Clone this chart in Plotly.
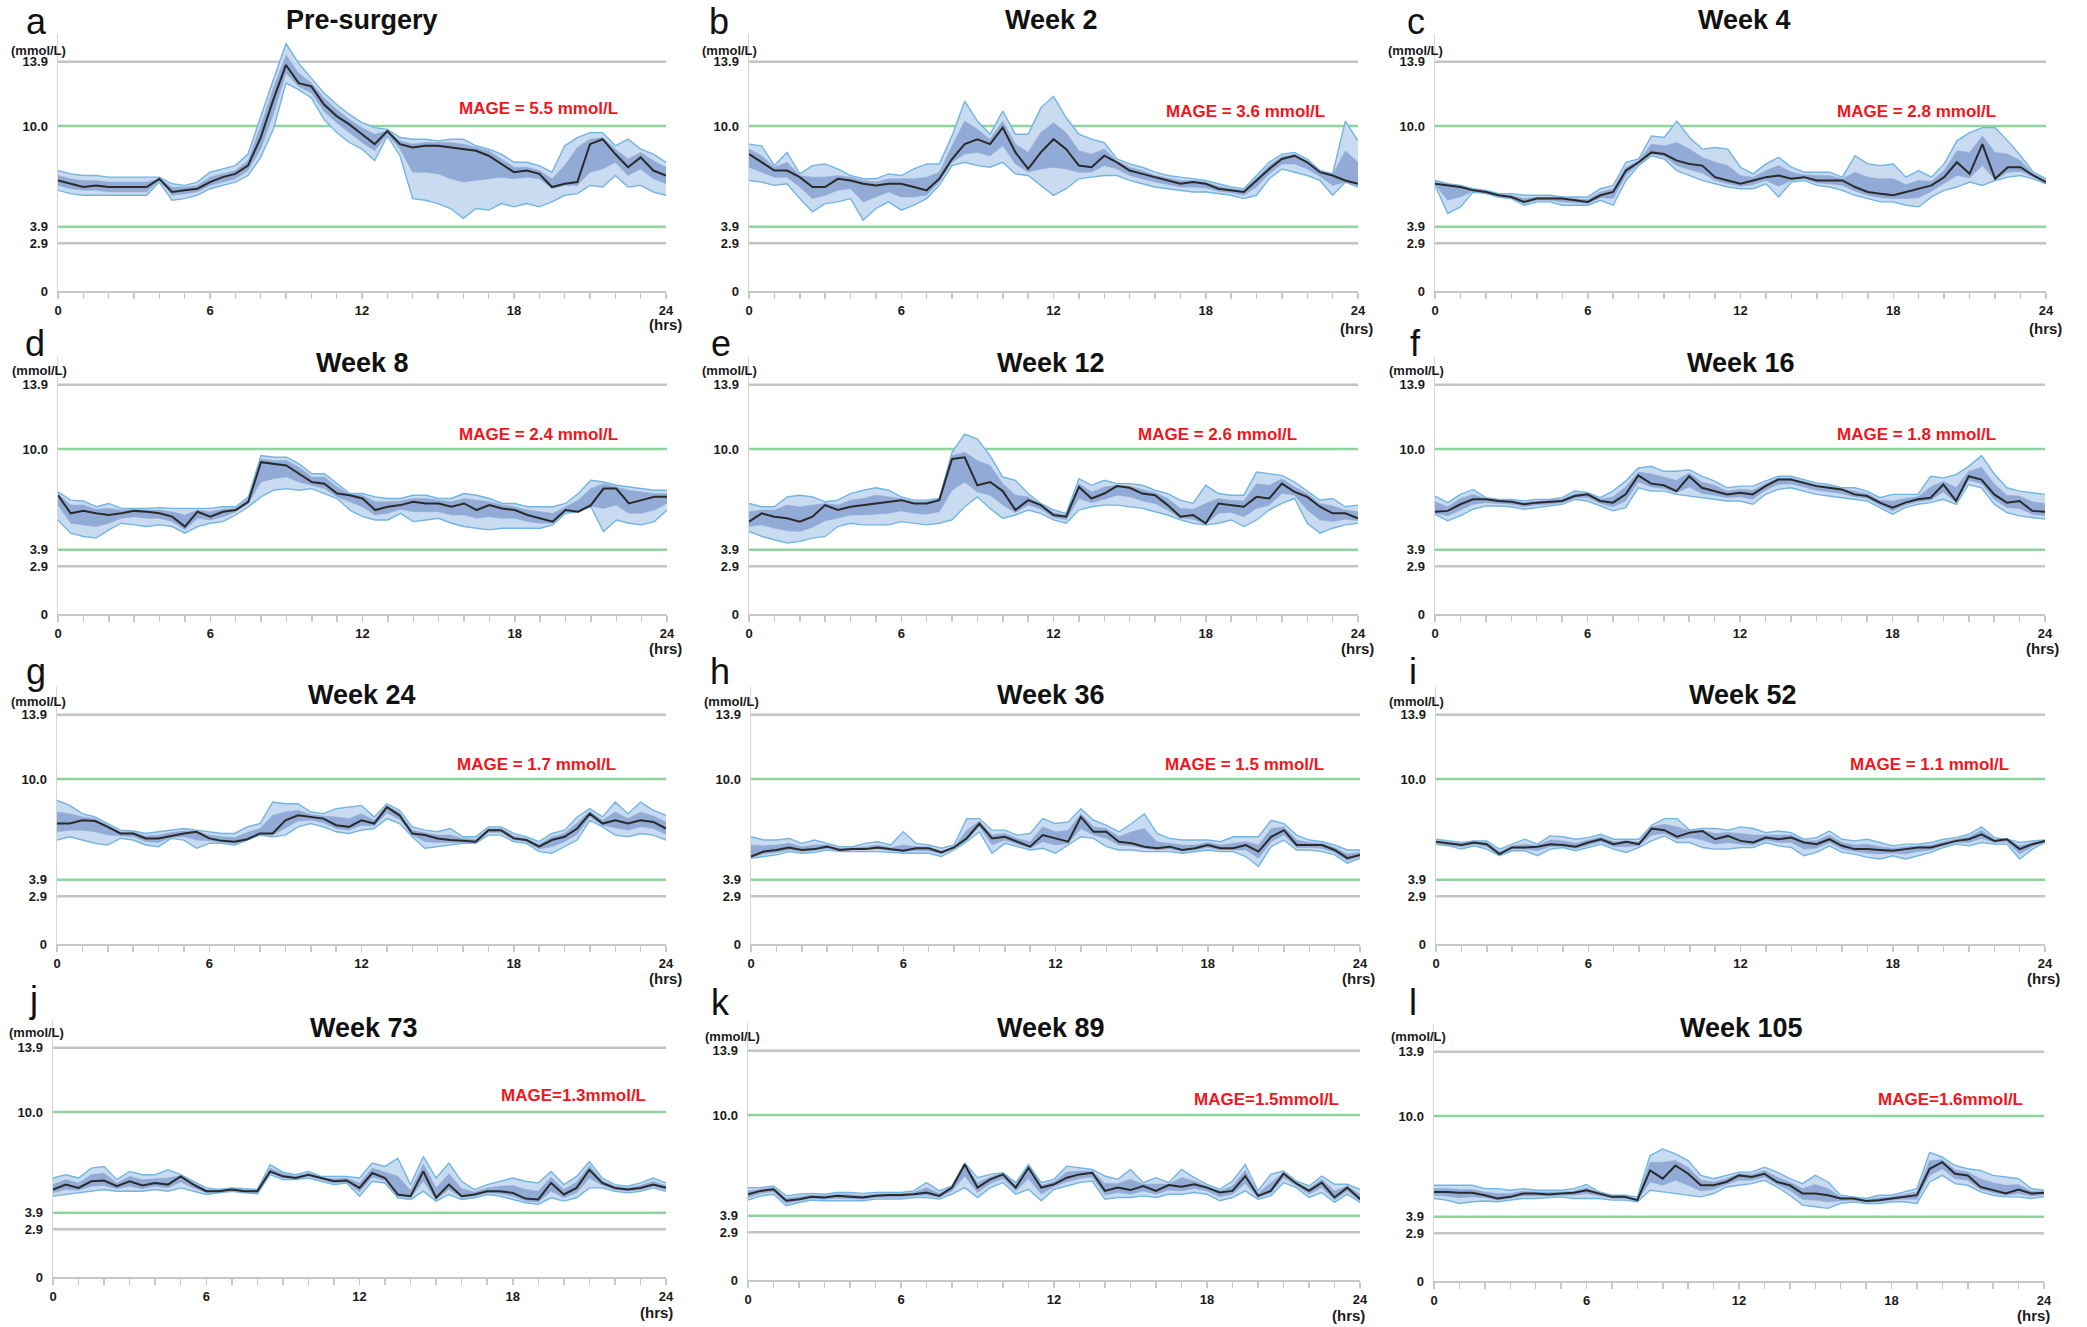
import plotly.graph_objects as go

# ---------------- data ----------------
HOURS = [0, 0.5, 1, 1.5, 2, 2.5, 3, 3.5, 4, 4.5, 5, 5.5, 6, 6.5, 7, 7.5, 8, 8.5, 9, 9.5,
         10, 10.5, 11, 11.5, 12, 12.5, 13, 13.5, 14, 14.5, 15, 15.5, 16, 16.5, 17, 17.5,
         18, 18.5, 19, 19.5, 20, 20.5, 21, 21.5, 22, 22.5, 23, 23.5, 24]

PANEL_LETTERS = ["a", "b", "c", "d", "e", "f", "g", "h", "i", "j", "k", "l"]
PANEL_TITLES = ["Pre-surgery", "Week 2", "Week 4", "Week 8", "Week 12", "Week 16",
                "Week 24", "Week 36", "Week 52", "Week 73", "Week 89", "Week 105"]
MAGE_LABELS = ["MAGE = 5.5 mmol/L", "MAGE = 3.6 mmol/L", "MAGE = 2.8 mmol/L",
               "MAGE = 2.4 mmol/L", "MAGE = 2.6 mmol/L", "MAGE = 1.8 mmol/L",
               "MAGE = 1.7 mmol/L", "MAGE = 1.5 mmol/L", "MAGE = 1.1 mmol/L",
               "MAGE=1.3mmol/L", "MAGE=1.5mmol/L", "MAGE=1.6mmol/L"]
Y_TICK_VALUES = [0, 2.9, 3.9, 10.0, 13.9]
Y_TICK_LABELS = ["0", "2.9", "3.9", "10.0", "13.9"]
X_TICK_VALUES = [0, 1, 2, 3, 4, 5, 6, 7, 8, 9, 10, 11, 12, 13, 14, 15, 16, 17, 18, 19, 20, 21, 22, 23, 24]
X_TICK_LABELS = ["0", "", "", "", "", "", "6", "", "", "", "", "", "12", "", "", "", "", "",
                 "18", "", "", "", "", "", "24"]
GRID_GRAY = [13.9, 2.9]
GRID_GREEN = [10.0, 3.9]

# Pre-surgery
A_MED = [6.7,6.5,6.3,6.4,6.3,6.3,6.3,6.3,6.8,6.0,6.1,6.2,6.6,6.9,7.1,7.6,9.3,11.6,13.7,12.6,12.4,11.3,10.6,10.1,9.5,8.9,9.7,8.9,8.7,8.8,8.8,8.7,8.6,8.5,8.2,7.7,7.2,7.3,7.1,6.3,6.5,6.6,8.9,9.2,8.3,7.5,8.1,7.3,7.0]
A_P90 = [7.3,7.1,7.0,7.0,6.9,6.9,6.9,6.9,6.9,6.5,6.4,6.6,7.2,7.4,7.6,8.3,10.6,12.8,15.0,13.8,12.9,12.0,11.3,10.7,10.2,9.9,9.8,9.3,9.2,9.2,9.1,9.2,9.2,8.8,8.6,8.3,7.8,7.8,7.6,7.2,8.8,9.3,9.6,9.6,8.8,9.2,8.6,8.3,7.8]
A_P75 = [7.0,6.8,6.7,6.7,6.6,6.6,6.6,6.6,6.8,6.3,6.3,6.4,6.9,7.1,7.3,7.9,10.0,12.3,14.3,13.2,12.6,11.7,11.0,10.4,9.9,9.5,9.7,9.1,8.9,9.0,9.0,9.0,8.9,8.7,8.5,8.0,7.5,7.5,7.3,6.8,7.6,8.7,9.2,9.3,8.6,8.0,8.4,7.9,7.5]
A_P25 = [6.4,6.2,6.1,6.1,6.0,6.0,6.0,6.0,6.7,5.8,5.9,6.0,6.4,6.6,6.8,7.3,8.6,10.7,13.2,12.4,12.0,10.9,10.2,9.6,9.0,8.5,9.5,8.6,7.2,7.2,7.1,6.8,6.6,6.7,6.8,6.9,6.8,6.9,6.8,6.2,6.4,6.4,7.2,7.4,7.8,7.0,7.4,6.8,6.5]
A_P10 = [6.1,5.9,5.8,5.8,5.8,5.8,5.8,5.8,6.6,5.5,5.6,5.8,6.2,6.4,6.6,7.0,8.1,9.8,12.6,12.2,11.7,10.4,9.6,9.0,8.6,7.9,9.4,8.2,5.6,5.5,5.3,5.0,4.4,5.0,4.9,5.3,5.1,5.3,5.1,5.4,5.8,5.9,6.4,6.3,7.0,6.3,6.4,6.0,5.8]

# Week 2
B_MED = [8.3,7.8,7.3,7.3,6.9,6.3,6.3,6.8,6.7,6.5,6.4,6.5,6.5,6.3,6.1,6.8,8.0,8.9,9.2,8.9,9.9,8.4,7.4,8.4,9.2,8.6,7.6,7.5,8.2,7.8,7.3,7.1,6.9,6.7,6.5,6.6,6.5,6.2,6.1,6.0,6.7,7.4,8.0,8.2,7.8,7.2,7.0,6.7,6.5]
B_P90 = [8.9,8.8,7.6,8.4,7.1,7.6,7.7,7.4,7.0,6.8,6.8,7.1,7.0,7.4,7.7,7.7,9.4,11.5,10.3,9.5,10.9,9.5,9.5,11.1,11.8,10.5,9.5,9.2,9.0,8.0,7.7,7.5,7.2,7.0,6.9,6.8,6.7,6.5,6.3,6.2,7.0,7.8,8.3,8.4,8.0,7.3,7.1,10.3,9.1]
B_P75 = [8.6,8.2,7.5,7.8,7.0,6.9,6.9,7.0,6.9,6.7,6.6,6.8,6.8,6.8,6.9,7.2,8.8,10.3,9.8,9.2,10.3,8.9,8.4,9.6,10.2,9.6,8.5,8.3,8.6,7.9,7.5,7.3,7.0,6.85,6.7,6.7,6.6,6.35,6.2,6.1,6.85,7.6,8.15,8.3,7.9,7.25,7.05,8.5,7.8]
B_P25 = [7.5,7.2,6.9,6.9,6.3,5.6,5.8,6.1,6.2,5.4,5.7,6.0,5.7,5.7,5.8,6.6,7.8,8.3,8.4,8.2,8.8,7.7,7.2,7.4,7.5,7.4,7.2,7.2,7.6,7.4,7.0,6.8,6.6,6.45,6.3,6.3,6.25,6.05,5.95,5.8,6.3,7.1,7.7,7.7,7.4,6.95,6.4,6.6,6.4]
B_P10 = [6.7,6.6,6.4,6.5,5.6,4.8,5.3,5.4,5.6,4.3,5.0,5.4,4.9,5.2,5.6,6.4,7.6,7.8,7.6,7.5,7.8,7.1,7.0,6.4,5.8,6.2,6.8,6.9,7.0,7.0,6.7,6.5,6.3,6.2,6.1,6.0,6.0,5.9,5.8,5.6,5.8,6.8,7.4,7.2,7.0,6.7,5.8,6.6,6.3]

# Week 4
C_MED = [6.5,6.4,6.3,6.1,6.0,5.8,5.7,5.4,5.6,5.6,5.6,5.5,5.4,5.8,6.0,7.3,7.8,8.4,8.3,7.9,7.7,7.6,6.9,6.7,6.5,6.7,6.9,7.0,6.8,6.9,6.7,6.7,6.7,6.3,6.0,5.9,5.8,6.0,6.2,6.4,6.9,7.8,7.1,8.9,6.8,7.5,7.5,7.0,6.6]
C_P90 = [6.7,6.5,6.4,6.2,6.1,5.9,5.9,5.8,5.8,5.8,5.7,5.7,5.7,6.2,6.4,7.8,8.0,9.4,9.3,10.3,9.3,8.6,8.7,8.6,7.5,7.1,7.7,8.1,7.5,7.2,7.2,7.2,6.9,8.2,7.7,7.6,7.7,6.9,7.3,6.9,7.7,9.1,9.6,9.9,9.9,9.1,8.2,7.2,6.8]
C_P75 = [6.6,6.45,6.35,6.15,6.05,5.85,5.8,5.6,5.7,5.7,5.65,5.6,5.55,6.0,6.2,7.5,7.9,8.9,8.8,9.0,8.6,8.1,7.8,7.6,7.0,6.9,7.3,7.6,7.2,7.05,7.0,7.0,6.8,7.2,6.9,6.8,6.8,6.45,6.7,6.65,7.3,8.5,8.4,9.4,8.4,8.3,7.9,7.1,6.7]
C_P25 = [6.45,5.5,5.7,6.05,5.95,5.75,5.65,5.3,5.5,5.5,5.4,5.35,5.3,5.65,5.6,7.0,7.7,8.3,8.15,7.6,7.35,7.15,6.7,6.5,6.35,6.45,6.7,6.35,6.7,6.8,6.55,6.5,6.4,6.05,5.8,5.65,5.6,5.6,5.65,6.05,6.5,7.0,6.85,7.6,6.75,7.2,7.25,6.9,6.55]
C_P10 = [6.4,4.7,5.1,6.0,5.9,5.7,5.6,5.2,5.4,5.4,5.2,5.2,5.2,5.5,5.2,6.7,7.6,8.2,8.0,7.3,7.0,6.7,6.5,6.3,6.2,6.2,6.5,5.7,6.6,6.7,6.4,6.3,6.1,5.8,5.6,5.4,5.4,5.2,5.1,5.7,6.1,6.3,6.6,6.4,6.7,6.9,7.0,6.8,6.5]

# Week 8
D_MED = [7.2,6.1,6.25,6.1,6.0,6.1,6.25,6.2,6.1,5.9,5.3,6.2,5.9,6.2,6.3,6.8,9.2,9.1,9.0,8.5,8.0,7.9,7.3,7.2,7.0,6.3,6.5,6.6,6.8,6.7,6.7,6.5,6.7,6.3,6.6,6.4,6.3,6.0,5.8,5.6,6.3,6.2,6.6,7.6,7.6,6.7,6.9,7.1,7.1]
D_P90 = [7.4,6.9,6.85,6.5,6.7,6.4,6.4,6.4,6.45,6.4,6.4,6.4,6.4,6.5,6.5,7.1,9.6,9.5,9.5,9.1,8.5,8.5,7.9,7.3,7.3,7.1,7.0,7.0,7.2,7.2,7.0,7.0,7.3,7.2,7.0,6.7,6.7,6.5,6.5,6.5,6.7,7.3,8.1,8.0,7.8,7.7,7.6,7.5,7.5]
D_P75 = [7.3,6.6,6.6,6.35,6.4,6.3,6.35,6.3,6.3,6.2,6.0,6.3,6.2,6.35,6.4,7.0,9.4,9.3,9.3,8.9,8.3,8.3,7.7,7.25,7.2,6.8,6.8,6.85,7.0,7.0,6.9,6.8,7.0,6.9,6.8,6.6,6.5,6.3,6.2,6.1,6.5,6.9,7.6,7.9,7.7,7.5,7.4,7.3,7.3]
D_P25 = [6.6,5.5,5.4,5.3,5.5,5.8,5.9,5.8,5.8,5.6,5.1,5.8,5.7,5.9,6.2,6.7,8.0,8.2,8.3,8.0,7.8,7.6,7.1,6.8,6.5,6.0,6.1,6.35,6.2,6.2,6.2,6.0,6.0,5.8,5.9,5.8,5.8,5.6,5.5,5.5,6.2,6.2,6.55,6.4,6.6,6.1,6.1,6.3,6.7]
D_P10 = [5.7,4.9,4.7,4.6,5.1,5.5,5.4,5.3,5.4,5.3,4.9,5.3,5.5,5.6,6.0,6.5,7.1,7.5,7.6,7.5,7.6,7.3,7.0,6.3,5.9,5.7,5.7,6.1,5.6,5.7,5.8,5.5,5.3,5.2,5.1,5.2,5.2,5.2,5.2,5.4,6.1,6.2,6.5,5.0,5.7,5.5,5.4,5.6,6.3]

# Week 12
E_MED = [5.6,6.1,5.9,5.8,5.6,5.9,6.6,6.3,6.5,6.6,6.7,6.8,6.9,6.7,6.7,6.9,9.4,9.5,7.8,8.0,7.45,6.3,6.9,6.6,6.0,5.9,7.7,7.0,7.3,7.75,7.65,7.3,7.2,6.6,5.9,6.0,5.5,6.7,6.6,6.5,7.1,7.0,7.9,7.4,7.1,6.5,6.1,6.1,5.8]
E_P90 = [6.7,6.5,6.5,7.1,7.2,7.1,6.8,6.9,7.3,7.5,7.65,7.5,7.1,6.9,6.9,7.0,9.8,10.9,10.6,9.6,8.3,8.1,7.3,6.7,6.3,6.1,8.2,7.8,8.1,7.9,7.9,7.8,7.5,7.3,6.9,6.7,7.8,7.3,7.2,7.2,8.6,8.5,8.4,8.0,7.45,6.9,7.0,6.5,6.6]
E_P75 = [6.2,6.3,6.3,6.6,6.5,6.6,6.7,6.6,6.9,7.0,7.2,7.1,7.0,6.8,6.8,6.95,9.6,9.8,9.3,9.0,7.9,7.2,7.1,6.65,6.15,6.0,7.9,7.4,7.7,7.8,7.75,7.55,7.35,7.0,6.4,6.35,6.7,7.0,6.9,6.85,7.9,7.8,8.2,7.7,7.3,6.7,6.55,6.3,6.2]
E_P25 = [5.3,5.4,5.2,5.05,5.0,5.25,5.65,5.8,6.0,6.0,6.05,6.1,6.25,6.1,6.05,6.2,7.5,8.0,7.4,7.2,6.6,6.15,6.6,6.35,5.85,5.7,7.0,6.75,6.95,7.2,7.1,6.85,6.7,6.3,5.8,5.75,5.45,6.1,6.15,5.9,6.4,6.6,7.3,7.2,6.3,5.7,5.6,5.75,5.65]
E_P10 = [5.0,4.7,4.5,4.3,4.4,4.6,4.7,5.3,5.5,5.4,5.4,5.4,5.6,5.5,5.4,5.5,5.7,6.5,7.1,6.4,5.8,6.0,6.3,6.1,5.7,5.5,6.3,6.5,6.6,6.6,6.5,6.4,6.2,6.0,5.7,5.5,5.4,5.5,5.7,5.3,5.7,6.3,6.7,7.0,5.5,4.9,5.2,5.4,5.5]

# Week 16
F_MED = [6.2,6.25,6.65,6.95,6.95,6.85,6.8,6.65,6.75,6.8,6.85,7.15,7.25,6.85,6.75,7.25,8.4,7.9,7.8,7.45,8.35,7.65,7.45,7.25,7.35,7.25,7.75,8.15,8.15,7.95,7.75,7.65,7.55,7.25,7.15,6.75,6.45,6.75,6.95,7.05,7.85,6.85,8.35,8.15,7.25,6.75,6.85,6.25,6.2]
F_P90 = [7.15,6.75,7.25,7.55,7.05,6.95,6.95,6.85,6.95,6.95,7.05,7.45,7.35,7.05,7.45,8.05,8.85,8.95,8.65,8.65,8.75,8.35,8.05,7.65,7.75,7.75,8.05,8.35,8.35,8.15,7.95,7.85,7.65,7.65,7.45,7.05,7.25,7.25,7.25,8.35,8.25,8.45,8.95,9.6,8.5,7.65,7.45,7.35,7.25]
F_P75 = [6.8,6.5,7.0,7.25,7.0,6.9,6.9,6.75,6.85,6.9,6.95,7.3,7.3,6.95,7.1,7.7,8.6,8.5,8.3,8.1,8.55,8.0,7.8,7.45,7.55,7.5,7.9,8.25,8.25,8.05,7.85,7.75,7.6,7.45,7.3,6.9,6.85,7.0,7.1,7.7,8.05,7.65,8.65,8.9,7.9,7.2,7.15,6.8,6.7]
F_P25 = [6.1,5.95,6.3,6.65,6.75,6.7,6.65,6.5,6.6,6.65,6.75,7.05,7.05,6.7,6.5,6.85,8.0,7.7,7.6,7.35,7.7,7.3,7.2,7.05,7.1,6.95,7.5,7.85,7.9,7.7,7.5,7.4,7.3,7.1,7.0,6.6,6.25,6.6,6.8,6.9,7.4,6.75,8.1,7.9,6.95,6.45,6.4,6.05,5.95]
F_P10 = [6.05,5.65,5.95,6.35,6.55,6.55,6.5,6.35,6.45,6.55,6.65,6.95,6.85,6.55,6.25,6.45,7.65,7.45,7.45,7.25,7.15,7.05,6.95,6.85,6.85,6.65,7.25,7.55,7.65,7.45,7.25,7.15,7.05,6.95,6.85,6.45,6.05,6.45,6.65,6.75,6.95,6.65,7.85,7.65,6.65,6.15,5.95,5.85,5.75]

# Week 24
G_MED = [7.3,7.3,7.5,7.45,7.1,6.7,6.7,6.4,6.4,6.55,6.7,6.8,6.4,6.25,6.2,6.35,6.7,6.7,7.5,7.8,7.7,7.6,7.2,7.1,7.5,7.3,8.3,7.8,6.7,6.6,6.4,6.3,6.25,6.2,6.9,6.9,6.4,6.3,5.9,6.3,6.5,7.0,7.9,7.3,7.5,7.3,7.5,7.4,7.0]
G_P90 = [8.7,8.4,7.9,7.7,7.3,6.9,6.85,6.7,6.8,6.9,7.0,6.9,6.8,6.7,6.7,7.1,7.3,8.6,8.5,8.5,8.0,7.9,8.2,8.3,8.4,7.7,8.5,8.1,7.1,6.9,6.8,7.0,6.5,6.5,7.1,7.1,6.7,6.5,6.2,6.7,6.9,7.7,8.2,7.7,8.6,7.9,8.6,8.1,7.8]
G_P75 = [8.0,7.9,7.7,7.6,7.2,6.8,6.8,6.55,6.6,6.75,6.85,6.85,6.6,6.5,6.45,6.75,7.0,7.8,8.0,8.1,7.85,7.75,7.7,7.6,7.9,7.5,8.4,7.95,6.9,6.75,6.6,6.6,6.4,6.35,7.0,7.0,6.55,6.4,6.05,6.5,6.7,7.35,8.05,7.5,8.0,7.6,8.0,7.75,7.4]
G_P25 = [6.8,6.9,6.9,6.8,6.6,6.55,6.5,6.2,6.15,6.45,6.5,6.3,6.25,6.15,6.1,6.3,6.65,6.6,7.0,7.45,7.5,7.35,7.0,6.9,7.2,7.15,7.95,7.55,6.6,6.2,6.15,6.15,6.15,6.15,6.75,6.75,6.3,6.2,5.75,5.9,6.2,6.65,7.7,7.2,7.05,6.9,7.1,7.0,6.65]
G_P10 = [6.3,6.5,6.3,6.1,6.0,6.4,6.3,6.0,5.9,6.4,6.3,5.8,6.1,6.1,6.0,6.3,6.6,6.5,6.6,7.1,7.3,7.1,6.8,6.7,6.9,7.0,7.6,7.3,6.5,5.8,5.9,6.0,6.1,6.1,6.6,6.6,6.2,6.1,5.6,5.5,5.9,6.3,7.5,7.1,6.6,6.5,6.7,6.6,6.3]

# Week 36
H_MED = [5.3,5.6,5.7,5.85,5.7,5.75,5.9,5.7,5.75,5.75,5.85,5.75,5.65,5.8,5.8,5.55,5.85,6.4,7.3,6.4,6.5,6.2,5.9,6.6,6.4,6.2,7.7,6.8,6.8,6.2,6.1,5.9,5.8,5.9,5.7,5.8,6.0,5.8,5.8,6.0,5.6,6.5,6.9,6.0,6.0,6.0,5.7,5.2,5.4]
H_P90 = [6.5,6.3,6.3,6.4,6.1,6.3,6.1,5.9,5.9,6.1,6.2,6.0,6.8,6.1,6.0,5.8,6.0,7.6,7.6,6.9,6.9,6.6,6.7,7.6,7.3,7.4,8.2,7.5,7.2,6.8,7.3,7.9,6.7,6.4,6.3,6.3,6.3,6.2,6.5,6.5,6.5,7.5,7.3,6.6,6.3,6.2,6.0,5.7,5.7]
H_P75 = [6.0,5.95,6.0,6.1,5.9,6.0,6.0,5.8,5.85,5.9,6.0,5.85,6.0,5.9,5.9,5.65,5.9,6.9,7.45,6.6,6.7,6.4,6.2,7.1,6.8,6.9,7.9,7.1,7.0,6.5,6.8,7.0,6.2,6.1,6.0,6.0,6.15,6.0,6.1,6.2,6.0,7.0,7.1,6.3,6.15,6.1,5.85,5.45,5.55]
H_P25 = [5.25,5.45,5.55,5.7,5.6,5.65,5.8,5.65,5.7,5.7,5.75,5.65,5.6,5.65,5.65,5.45,5.8,6.3,7.1,6.0,6.3,6.05,5.8,6.2,6.0,6.1,7.0,6.6,6.4,6.0,5.95,5.8,5.7,5.75,5.6,5.7,5.85,5.7,5.7,5.7,5.2,6.2,6.6,5.85,5.85,5.8,5.55,5.05,5.3]
H_P10 = [5.2,5.3,5.4,5.6,5.5,5.55,5.7,5.6,5.6,5.6,5.6,5.55,5.5,5.5,5.5,5.3,5.7,6.2,6.8,5.5,6.1,5.9,5.7,5.8,5.5,6.0,6.5,6.4,5.9,5.7,5.7,5.6,5.6,5.6,5.5,5.6,5.7,5.6,5.6,5.3,4.7,5.9,6.3,5.7,5.7,5.6,5.4,4.9,5.2]

# Week 52
I_MED = [6.2,6.1,6.0,6.15,6.05,5.45,5.85,5.85,5.9,6.05,6.0,5.9,6.15,6.35,6.05,6.2,6.05,7.0,6.9,6.5,6.75,6.85,6.35,6.55,6.25,6.15,6.45,6.35,6.45,6.15,6.05,6.35,5.95,5.75,5.75,5.7,5.65,5.75,5.85,5.85,6.05,6.25,6.35,6.65,6.25,6.35,5.75,6.05,6.25]
I_P90 = [6.35,6.25,6.15,6.25,6.25,5.75,6.05,6.35,6.05,6.55,6.5,6.35,6.45,6.65,6.35,6.35,6.35,7.2,7.6,7.6,6.9,7.0,7.0,6.9,7.1,7.0,6.75,6.85,6.75,6.35,6.45,6.85,6.35,6.25,6.35,6.15,5.95,6.05,6.05,6.15,6.35,6.45,6.65,7.1,6.45,6.35,6.15,6.25,6.3]
I_P75 = [6.28,6.2,6.08,6.2,6.15,5.6,5.95,6.05,5.97,6.3,6.25,6.1,6.3,6.5,6.2,6.27,6.2,7.1,7.25,7.1,6.85,6.9,6.7,6.75,6.7,6.6,6.6,6.6,6.6,6.25,6.25,6.6,6.15,6.0,6.05,5.9,5.8,5.9,5.95,6.0,6.2,6.35,6.5,6.9,6.35,6.35,5.95,6.15,6.27]
I_P25 = [6.12,6.02,5.88,6.05,5.9,5.4,5.75,5.75,5.65,5.9,5.92,5.78,6.0,6.2,5.9,5.9,5.95,6.6,6.7,6.35,6.45,6.3,6.05,6.15,6.05,6.0,6.3,6.15,6.15,5.75,5.8,6.15,5.75,5.6,5.5,5.45,5.5,5.45,5.6,5.7,5.95,6.15,6.15,6.4,6.15,6.2,5.45,5.9,6.2]
I_P10 = [6.05,5.95,5.75,5.95,5.75,5.35,5.65,5.65,5.35,5.75,5.85,5.65,5.85,6.05,5.75,5.55,5.85,6.25,6.55,6.15,6.15,5.85,5.75,5.75,5.85,5.85,6.15,5.95,5.85,5.35,5.55,5.95,5.55,5.45,5.25,5.15,5.35,5.15,5.35,5.55,5.85,6.05,5.95,6.15,6.05,6.05,5.15,5.75,6.15]

# Week 73
J_MED = [5.3,5.6,5.4,5.8,5.85,5.5,5.8,5.55,5.7,5.6,6.1,5.6,5.2,5.2,5.3,5.2,5.2,6.4,6.1,6.0,6.2,6.0,5.8,5.85,5.4,6.3,6.0,5.0,4.9,6.4,4.8,5.6,4.9,5.0,5.2,5.2,5.1,4.75,4.7,5.7,5.0,5.4,6.5,5.7,5.4,5.3,5.4,5.6,5.4]
J_P90 = [6.0,6.2,6.0,6.6,6.7,5.9,6.4,6.2,6.2,6.5,6.2,5.8,5.4,5.3,5.4,5.35,5.3,6.8,6.35,6.2,6.4,6.1,6.1,6.1,6.0,6.9,6.7,7.2,5.6,7.3,6.0,6.9,5.8,5.3,5.6,5.8,6.0,5.8,5.7,6.4,5.6,6.1,7.0,6.0,5.6,5.5,5.7,6.0,5.7]
J_P75 = [5.6,5.9,5.7,6.2,6.3,5.7,6.1,5.9,5.95,6.0,6.15,5.7,5.3,5.25,5.35,5.28,5.25,6.6,6.25,6.1,6.3,6.05,5.95,6.0,5.7,6.6,6.35,6.1,5.25,6.85,5.4,6.25,5.35,5.15,5.4,5.5,5.55,5.3,5.2,6.05,5.3,5.75,6.75,5.85,5.5,5.4,5.55,5.8,5.55]
J_P25 = [5.1,5.3,5.25,5.5,5.55,5.35,5.5,5.35,5.5,5.4,5.75,5.4,5.1,5.15,5.25,5.15,5.12,6.3,6.0,5.95,6.1,5.9,5.7,5.75,5.15,6.05,5.85,4.9,4.8,5.8,4.7,5.3,4.8,4.9,5.1,5.05,4.9,4.6,4.55,5.2,4.8,5.1,6.0,5.55,5.3,5.2,5.3,5.5,5.3]
J_P10 = [4.9,5.0,5.1,5.2,5.3,5.2,5.2,5.2,5.3,5.2,5.4,5.2,5.0,5.1,5.2,5.1,5.05,6.2,5.9,5.9,6.0,5.8,5.6,5.7,4.9,5.8,5.7,4.8,4.7,5.2,4.6,5.0,4.7,4.8,5.0,4.9,4.7,4.5,4.4,4.8,4.6,4.8,5.4,5.4,5.2,5.1,5.2,5.4,5.2]

# Week 89
K_MED = [5.2,5.4,5.5,4.8,4.9,5.05,5.0,5.1,5.05,5.0,5.1,5.15,5.15,5.2,5.3,5.1,5.6,7.0,5.6,6.1,6.4,5.6,6.8,5.6,5.8,6.2,6.4,6.5,5.4,5.6,5.45,5.7,5.4,5.75,5.65,5.8,5.6,5.3,5.4,6.3,5.1,5.4,6.45,5.85,5.4,5.9,5.0,5.6,4.9]
K_P90 = [5.6,5.6,5.7,5.1,5.2,5.25,5.2,5.3,5.3,5.25,5.3,5.3,5.3,5.4,5.9,5.4,5.7,7.1,6.2,6.4,6.5,5.9,7.0,5.9,6.1,6.9,6.8,6.7,6.3,6.1,6.7,5.9,6.2,5.9,6.7,6.2,5.8,5.5,6.0,7.0,5.4,6.4,6.6,6.0,5.7,6.3,5.8,5.8,5.5]
K_P75 = [5.4,5.5,5.6,4.95,5.05,5.15,5.1,5.2,5.18,5.12,5.2,5.22,5.22,5.3,5.6,5.25,5.65,7.05,5.9,6.25,6.45,5.75,6.9,5.75,5.95,6.55,6.6,6.6,5.85,5.85,6.1,5.8,5.8,5.82,6.2,6.0,5.7,5.4,5.7,6.65,5.25,5.9,6.52,5.92,5.55,6.1,5.4,5.7,5.2]
K_P25 = [5.0,5.25,5.35,4.65,4.8,4.95,4.9,4.95,4.92,4.9,5.0,5.02,5.02,5.1,5.15,5.0,5.4,6.3,5.3,5.85,6.15,5.4,6.15,5.2,5.65,5.95,6.15,6.25,5.15,5.3,5.2,5.4,5.2,5.45,5.4,5.55,5.4,5.05,5.2,5.85,5.0,5.25,6.2,5.72,5.2,5.6,4.85,5.4,4.8]
K_P10 = [4.85,5.1,5.2,4.5,4.7,4.85,4.8,4.8,4.8,4.8,4.9,4.9,4.9,5.0,5.0,4.9,5.2,5.6,5.0,5.6,5.9,5.2,5.5,4.8,5.5,5.7,5.9,6.0,4.9,5.0,5.0,5.1,5.0,5.2,5.2,5.3,5.2,4.8,5.0,5.4,4.9,5.1,5.9,5.6,5.0,5.3,4.7,5.2,4.7]

# Week 105
L_MED = [5.4,5.4,5.35,5.35,5.2,5.0,5.1,5.3,5.3,5.25,5.3,5.35,5.5,5.3,5.1,5.1,4.9,6.7,6.2,7.0,6.5,5.8,5.8,6.0,6.4,6.3,6.5,6.0,5.8,5.3,5.3,5.2,5.0,5.0,4.85,4.9,5.0,5.1,5.2,6.8,7.2,6.5,6.4,5.7,5.5,5.3,5.55,5.3,5.35]
L_P90 = [5.8,5.8,5.8,5.8,5.6,5.6,5.5,5.6,5.5,5.5,5.5,5.6,5.85,5.4,5.2,5.2,5.1,7.6,8.0,7.7,7.3,6.4,6.2,6.4,6.6,6.6,6.9,6.6,6.2,5.9,6.4,6.0,5.2,5.1,5.0,5.2,5.2,5.4,5.6,7.8,7.5,7.0,6.8,6.7,6.4,6.3,6.2,5.6,5.5]
L_P75 = [5.6,5.6,5.55,5.55,5.4,5.3,5.3,5.45,5.4,5.4,5.4,5.45,5.65,5.35,5.15,5.15,5.0,7.2,7.2,7.3,6.9,6.1,6.0,6.2,6.5,6.45,6.7,6.3,6.0,5.6,5.85,5.6,5.1,5.05,4.92,5.05,5.1,5.25,5.4,7.3,7.35,6.75,6.6,6.2,5.95,5.8,5.85,5.45,5.42]
L_P25 = [5.2,5.15,5.05,5.1,5.05,4.9,5.0,5.15,5.15,5.15,5.2,5.2,5.3,5.15,5.0,5.0,4.85,6.0,5.8,6.1,5.8,5.45,5.55,5.85,6.1,6.1,6.3,5.85,5.5,4.95,4.9,4.8,4.85,4.9,4.78,4.8,4.9,4.95,4.95,6.4,6.8,6.2,6.1,5.55,5.35,5.2,5.3,5.15,5.2]
L_P10 = [5.0,4.9,4.7,4.8,4.85,4.8,4.9,5.0,5.0,5.05,5.1,5.0,5.0,5.0,4.9,4.9,4.8,5.5,5.4,5.3,5.2,5.1,5.3,5.7,5.8,5.9,6.1,5.7,5.2,4.6,4.5,4.4,4.7,4.8,4.7,4.7,4.8,4.8,4.7,6.0,6.4,5.9,5.8,5.4,5.2,5.1,5.1,5.0,5.1]

SERIES = [
    (A_P10, A_P25, A_MED, A_P75, A_P90), (B_P10, B_P25, B_MED, B_P75, B_P90),
    (C_P10, C_P25, C_MED, C_P75, C_P90), (D_P10, D_P25, D_MED, D_P75, D_P90),
    (E_P10, E_P25, E_MED, E_P75, E_P90), (F_P10, F_P25, F_MED, F_P75, F_P90),
    (G_P10, G_P25, G_MED, G_P75, G_P90), (H_P10, H_P25, H_MED, H_P75, H_P90),
    (I_P10, I_P25, I_MED, I_P75, I_P90), (J_P10, J_P25, J_MED, J_P75, J_P90),
    (K_P10, K_P25, K_MED, K_P75, K_P90), (L_P10, L_P25, L_MED, L_P75, L_P90),
]

# ---------------- layout geometry (pixels in the 2087x1327 page) ----------------
W, H = 2087, 1327
PX_PER_UNIT = 16.5
Y_TOP = 15.6

# x0, x24, y(0), letter, title, unit, mage, hrs
GEOM = [
    (58, 666, 291, (36, 22), (362, 20), (38, 50), (538, 108), (665, 325)),
    (749, 1358, 291, (719, 22), (1051, 20), (729, 50), (1245, 112), (1356, 328)),
    (1435, 2046, 291, (1416, 22), (1744, 20), (1415, 50), (1916, 112), (2045, 328)),
    (58, 667, 614, (35, 343), (362, 363), (39, 371), (538, 434), (665, 648)),
    (749, 1358, 614, (721, 343), (1051, 363), (729, 371), (1217, 434), (1357, 648)),
    (1435, 2045, 614, (1415, 343), (1741, 363), (1416, 371), (1916, 434), (2042, 648)),
    (57, 666, 944, (36, 671), (362, 695), (38, 701), (536, 765), (665, 978)),
    (751, 1360, 944, (720, 671), (1051, 695), (731, 701), (1244, 765), (1358, 978)),
    (1436, 2045, 944, (1413, 671), (1743, 695), (1416, 701), (1929, 765), (2043, 978)),
    (53, 666, 1277, (33, 999), (364, 1028), (36, 1032), (573, 1095), (656, 1312)),
    (748, 1360, 1280, (720, 1002), (1051, 1028), (732, 1036), (1266, 1099), (1348, 1315)),
    (1434, 2044, 1281, (1413, 1002), (1741, 1028), (1418, 1036), (1950, 1099), (2034, 1315)),
]

SANS = "Liberation Sans, Arial, Helvetica, sans-serif"
LIGHT = "#c9dbf0"
DARK = "#91abd6"
EDGE = "#72b5e3"
MEDIAN = "#2a2a2a"
GREEN = "#8fd49f"
GRAY = "#c4c4c4"
RED = "#f01620"


def fx(px):
    return px / W


def fy(py):
    return 1 - py / H


fig = go.Figure()
layout = dict(
    width=W, height=H, autosize=False,
    margin=dict(l=0, r=0, t=0, b=0, pad=0, autoexpand=False),
    paper_bgcolor="white", plot_bgcolor="white",
    showlegend=False,
    font=dict(family=SANS, color="#111111"),
)
shapes = []
annotations = []

for i, (series, geom) in enumerate(zip(SERIES, GEOM)):
    n = i + 1
    xa = "x" if n == 1 else f"x{n}"
    ya = "y" if n == 1 else f"y{n}"
    xkey = "xaxis" if n == 1 else f"xaxis{n}"
    ykey = "yaxis" if n == 1 else f"yaxis{n}"
    p10, p25, med, p75, p90 = series
    x0, x1, y0, letter_xy, title_xy, unit_xy, mage_xy, hrs_xy = geom
    ytop_px = y0 - Y_TOP * PX_PER_UNIT

    layout[xkey] = dict(
        domain=[fx(x0), fx(x1)], range=[0, 24], anchor=ya, automargin=False,
        tickvals=X_TICK_VALUES, ticktext=X_TICK_LABELS,
        ticks="outside", ticklen=6, tickwidth=1.5, tickcolor="#c8c8c8",
        showline=True, linecolor="#c8c8c8", linewidth=2,
        showgrid=False, zeroline=False,
        tickfont=dict(family=SANS, size=13, color="#1a1a1a", weight="bold"),
        fixedrange=True,
    )
    layout[ykey] = dict(
        domain=[fy(y0), fy(ytop_px)], range=[0, Y_TOP], anchor=xa, automargin=False,
        tickvals=Y_TICK_VALUES, ticktext=Y_TICK_LABELS, ticks="",
        ticklabelstandoff=6,
        showline=True, linecolor="#d6d6d6", linewidth=1.5,
        showgrid=False, zeroline=False,
        tickfont=dict(family=SANS, size=13, color="#1a1a1a", weight="bold"),
        fixedrange=True,
    )

    for v in GRID_GRAY:
        shapes.append(dict(type="line", xref=xa, yref=ya, x0=0, x1=24, y0=v, y1=v,
                           line=dict(color=GRAY, width=2.5), layer="below"))
    for v in GRID_GREEN:
        shapes.append(dict(type="line", xref=xa, yref=ya, x0=0, x1=24, y0=v, y1=v,
                           line=dict(color=GREEN, width=2.5), layer="below"))

    common = dict(x=HOURS, xaxis=xa, yaxis=ya, mode="lines", hoverinfo="skip", showlegend=False)
    fig.add_trace(go.Scatter(y=p10, line=dict(color=EDGE, width=1.4), **common))
    fig.add_trace(go.Scatter(y=p90, fill="tonexty", fillcolor=LIGHT,
                             line=dict(color=EDGE, width=1.4), **common))
    fig.add_trace(go.Scatter(y=p25, line=dict(color=DARK, width=0.5), **common))
    fig.add_trace(go.Scatter(y=p75, fill="tonexty", fillcolor=DARK,
                             line=dict(color=DARK, width=0.5), **common))
    fig.add_trace(go.Scatter(y=med, line=dict(color=MEDIAN, width=2), **common))

    annotations.append(dict(xref="paper", yref="paper", x=fx(letter_xy[0]), y=fy(letter_xy[1]),
                            text=PANEL_LETTERS[i], showarrow=False, xanchor="center", yanchor="middle",
                            font=dict(family=SANS, size=36, color="#111111")))
    annotations.append(dict(xref="paper", yref="paper", x=fx(title_xy[0]), y=fy(title_xy[1]),
                            text=PANEL_TITLES[i], showarrow=False, xanchor="center", yanchor="middle",
                            font=dict(family=SANS, size=27, color="#111111", weight="bold")))
    annotations.append(dict(xref="paper", yref="paper", x=fx(unit_xy[0]), y=fy(unit_xy[1]),
                            text="(mmol/L)", showarrow=False, xanchor="center", yanchor="middle",
                            font=dict(family=SANS, size=13, color="#1a1a1a", weight="bold")))
    annotations.append(dict(xref="paper", yref="paper", x=fx(mage_xy[0]), y=fy(mage_xy[1]),
                            text=MAGE_LABELS[i], showarrow=False, xanchor="center", yanchor="middle",
                            font=dict(family=SANS, size=17, color=RED, weight="bold")))
    annotations.append(dict(xref="paper", yref="paper", x=fx(hrs_xy[0]), y=fy(hrs_xy[1]),
                            text="(hrs)", showarrow=False, xanchor="center", yanchor="middle",
                            font=dict(family=SANS, size=15, color="#1a1a1a", weight="bold")))

layout["shapes"] = shapes
layout["annotations"] = annotations
fig.update_layout(**layout)
fig.write_html(
    "out.html",
    config={"displayModeBar": False, "staticPlot": True},
    post_script="document.body.style.margin='0px';document.body.style.padding='0px';"
                "document.body.style.overflow='hidden';",
)
